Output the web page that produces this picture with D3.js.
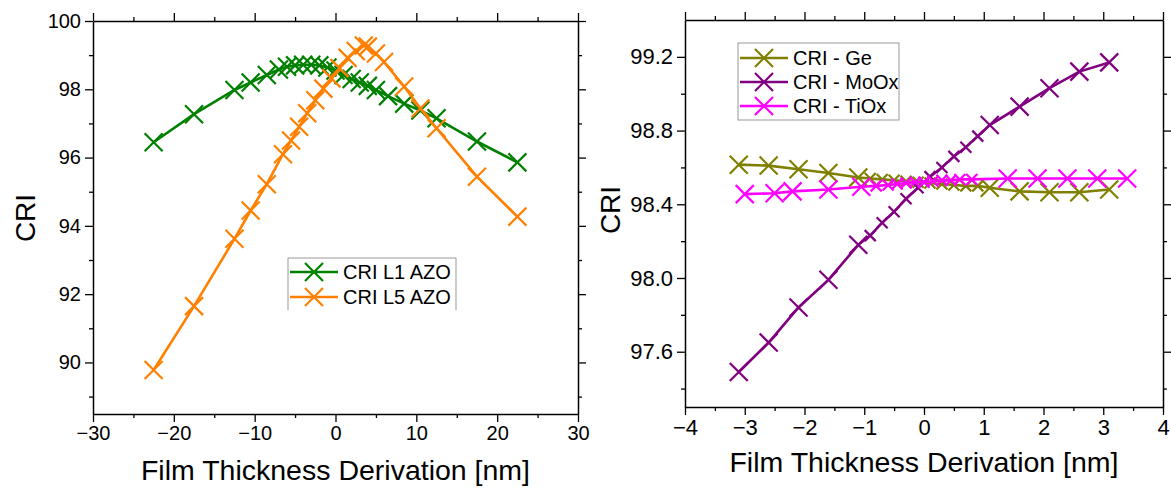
<!DOCTYPE html>
<html>
<head>
<meta charset="utf-8">
<script src="https://cdn.jsdelivr.net/npm/d3@7"></script>
<style>
body { margin: 0; background: #fff; }
text { font-family: "Liberation Sans", Arial, sans-serif; fill: #000; }
</style>
</head>
<body>
<div id="chart"></div>
<script>
// left panel: AZO layers, thickness deviation in nm
var l1X = [-22.5, -17.5, -12.5, -10.5, -8.5, -7, -6, -5, -4, -3, -2, -1, 0, 1, 2, 3, 4, 5, 6.5, 8.5, 10.5, 12.5, 17.5, 22.5];
var l1Y = [96.45, 97.27, 97.98, 98.2, 98.42, 98.58, 98.66, 98.7, 98.72, 98.72, 98.7, 98.64, 98.55, 98.42, 98.3, 98.2, 98.1, 97.98, 97.8, 97.58, 97.38, 97.15, 96.47, 95.86];
var l5X = [-22.5, -17.5, -12.5, -10.5, -8.5, -6.5, -5.5, -4.5, -3.5, -2.5, -1.5, -0.5, 0.5, 1.5, 2.5, 3.5, 4, 5, 6, 8.5, 10.5, 12.5, 17.5, 22.5];
var l5Y = [89.78, 91.65, 93.62, 94.45, 95.22, 96.1, 96.5, 96.9, 97.3, 97.68, 98.02, 98.32, 98.62, 98.92, 99.12, 99.28, 99.25, 99.05, 98.8, 98.08, 97.44, 96.86, 95.44, 94.27];

// right panel: thin layers
var geX = [-3.1, -2.6, -2.1, -1.6, -1.1, -0.9, -0.7, -0.5, -0.3, -0.1, 0.1, 0.3, 0.5, 0.7, 0.9, 1.1, 1.6, 2.1, 2.6, 3.1];
var geY = [98.615, 98.61, 98.59, 98.57, 98.545, 98.54, 98.535, 98.53, 98.525, 98.52, 98.515, 98.51, 98.505, 98.5, 98.5, 98.49, 98.47, 98.465, 98.465, 98.48];
var moX = [-3.1, -2.6, -2.1, -1.6, -1.1, -0.9, -0.7, -0.5, -0.3, -0.1, 0.1, 0.3, 0.5, 0.7, 0.9, 1.1, 1.6, 2.1, 2.6, 3.1];
var moY = [97.49, 97.65, 97.84, 97.99, 98.18, 98.23, 98.3, 98.36, 98.43, 98.49, 98.55, 98.6, 98.66, 98.71, 98.77, 98.83, 98.93, 99.03, 99.12, 99.17];
var tiX = [-3.0, -2.5, -2.2, -1.6, -1.05, -0.8, -0.6, -0.45, -0.3, -0.15, 0, 0.15, 0.3, 0.45, 0.6, 0.8, 1.4, 1.9, 2.4, 2.9, 3.4];
var tiY = [98.455, 98.46, 98.47, 98.48, 98.495, 98.5, 98.505, 98.51, 98.515, 98.52, 98.52, 98.525, 98.53, 98.53, 98.535, 98.535, 98.54, 98.54, 98.54, 98.54, 98.54];

var leftNames = ["CRI L1 AZO", "CRI L5 AZO"];
var rightNames = ["CRI - Ge", "CRI - MoOx", "CRI - TiOx"];
var leftXTicks = [-30, -20, -10, 0, 10, 20, 30];
var leftYTicks = [90, 92, 94, 96, 98, 100];
var rightXTicks = [-4, -3, -2, -1, 0, 1, 2, 3, 4];
var rightYTicks = [97.6, 98.0, 98.4, 98.8, 99.2];

function zip(xs, ys) { return xs.map(function(v, i) { return {x: v, y: ys[i]}; }); }

var svg = d3.select("#chart").append("svg")
    .attr("width", 1171).attr("height", 492);

// X shaped marker
function cross(h) { return "M" + (-h) + "," + (-h) + "L" + h + "," + h + "M" + (-h) + "," + h + "L" + h + "," + (-h); }

function drawPanel(p) {
    var x = d3.scaleLinear().domain(p.xDomain).range([p.left, p.right]);
    var y = d3.scaleLinear().domain(p.yDomain).range([p.bottom, p.top]);
    var g = svg.append("g");

    var axes = [
        {gen: d3.axisBottom(x), at: "translate(0," + p.bottom + ")", major: p.xMajor, minor: p.xMinor, fmt: p.xFmt},
        {gen: d3.axisTop(x), at: "translate(0," + p.top + ")", major: p.xMajor, minor: p.xMinor, fmt: null},
        {gen: d3.axisLeft(y), at: "translate(" + p.left + ",0)", major: p.yMajor, minor: p.yMinor, fmt: p.yFmt},
        {gen: d3.axisRight(y), at: "translate(" + p.right + ",0)", major: p.yMajor, minor: p.yMinor, fmt: null}
    ];
    axes.forEach(function(a) {
        var gm = g.append("g").attr("transform", a.at)
            .call(a.gen.tickValues(a.major).tickSize(8).tickSizeOuter(0).tickPadding(4)
                .tickFormat(a.fmt ? a.fmt : ""));
        gm.selectAll("text").style("font-size", p.tickFont).style("font-family", "Liberation Sans, Arial, sans-serif");
        gm.select(".domain").attr("stroke-width", 1.5);
        gm.selectAll(".tick line").attr("stroke-width", 1.3);
        var gn = g.append("g").attr("transform", a.at)
            .call(a.gen.tickValues(a.minor).tickSize(4).tickSizeOuter(0).tickFormat(""));
        gn.select(".domain").remove();
        gn.selectAll(".tick line").attr("stroke-width", 1.3);
    });

    var line = d3.line().x(function(d) { return x(d.x); }).y(function(d) { return y(d.y); });
    p.series.forEach(function(s) {
        g.append("path").datum(s.pts)
            .attr("d", line).attr("fill", "none")
            .attr("stroke", s.color).attr("stroke-width", 2.6);
        g.selectAll(null).data(s.pts).enter().append("path")
            .attr("d", function(d) { return cross(p.markSize(d)); })
            .attr("transform", function(d) { return "translate(" + x(d.x) + "," + y(d.y) + ")"; })
            .attr("fill", "none").attr("stroke", s.color).attr("stroke-width", 2.2);
    });

    // axis titles
    g.append("text")
        .attr("x", (p.left + p.right) / 2).attr("y", p.xTitleY)
        .attr("text-anchor", "middle").style("font-size", "28.5px")
        .text("Film Thickness Derivation [nm]");
    g.append("text")
        .attr("transform", "translate(" + p.yTitleX + "," + p.yTitleY + ") rotate(-90)")
        .attr("text-anchor", "middle").attr("dy", "0.35em").style("font-size", "28px")
        .text("CRI");

    // legend
    var L = p.legend;
    var lg = g.append("g");
    if (L.open) {
        lg.append("path")
            .attr("d", "M" + L.x + "," + (L.y + L.h) + "V" + L.y + "H" + (L.x + L.w) + "V" + (L.y + L.h))
            .attr("fill", "#fff").attr("stroke", "#999").attr("stroke-width", 1);
    } else {
        lg.append("rect").attr("x", L.x).attr("y", L.y).attr("width", L.w).attr("height", L.h)
            .attr("fill", "#fff").attr("stroke", "#999").attr("stroke-width", 1);
    }
    p.series.forEach(function(s, i) {
        var cy = L.y + L.first + i * L.step;
        lg.append("line").attr("x1", L.x + 2).attr("x2", L.x + 50).attr("y1", cy).attr("y2", cy)
            .attr("stroke", s.color).attr("stroke-width", 2.6);
        lg.append("path").attr("d", cross(9))
            .attr("transform", "translate(" + (L.x + 26) + "," + cy + ")")
            .attr("fill", "none").attr("stroke", s.color).attr("stroke-width", 2.2);
        lg.append("text").attr("x", L.x + 55).attr("y", cy).attr("dy", "0.36em")
            .style("font-size", "20px").text(s.name);
    });
}

drawPanel({
    left: 93, right: 578, top: 21, bottom: 414,
    xDomain: [-30, 30], yDomain: [88.49, 100],
    xMajor: leftXTicks, xMinor: d3.range(-25, 30, 10),
    yMajor: leftYTicks, yMinor: d3.range(89, 100, 2),
    xFmt: d3.format("d"), yFmt: d3.format("d"),
    tickFont: "20px",
    xTitleY: 480, yTitleX: 25, yTitleY: 218,
    markSize: function(d) { return 9; },
    series: [
        {name: leftNames[0], color: "#008000", pts: zip(l1X, l1Y)},
        {name: leftNames[1], color: "#ff8000", pts: zip(l5X, l5Y)}
    ],
    legend: {x: 288, y: 258, w: 168, h: 52, first: 14, step: 25, open: true}
});

drawPanel({
    left: 685, right: 1163, top: 20, bottom: 407,
    xDomain: [-4, 4], yDomain: [97.3, 99.4],
    xMajor: rightXTicks, xMinor: d3.range(-3.5, 4, 1),
    yMajor: rightYTicks, yMinor: [97.4, 97.8, 98.2, 98.6, 99.0],
    xFmt: d3.format("d"), yFmt: d3.format(".1f"),
    tickFont: "22px",
    xTitleY: 472, yTitleX: 610, yTitleY: 210,
    markSize: function(d) { return Math.abs(d.x) < 1 ? 5.5 : 9; },
    series: [
        {name: rightNames[0], color: "#808000", pts: zip(geX, geY)},
        {name: rightNames[1], color: "#800080", pts: zip(moX, moY)},
        {name: rightNames[2], color: "#ff00ff", pts: zip(tiX, tiY)}
    ],
    legend: {x: 738, y: 43, w: 161, h: 77, first: 15, step: 24, open: false}
});
</script>
</body>
</html>
